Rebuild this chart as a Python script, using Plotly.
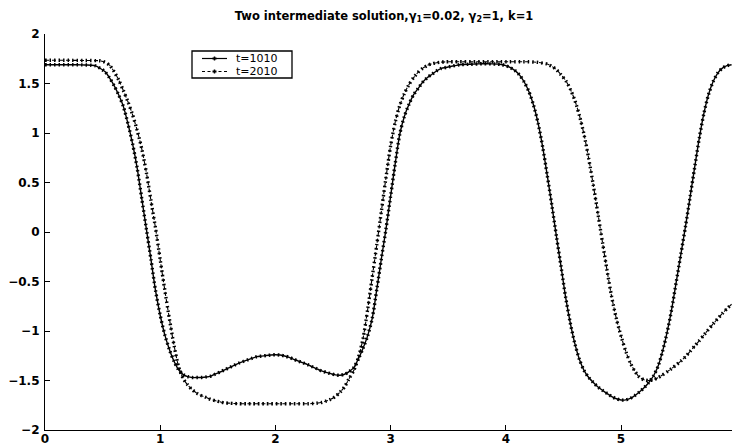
import plotly.graph_objects as go

# Solution profiles u(x) sampled every 0.04 on the visible part of the domain
x_step = 0.04

u_1010 = [
    1.690, 1.690, 1.690, 1.690, 1.690, 1.690, 1.689, 1.689, 1.688, 1.687,
    1.685, 1.678, 1.652, 1.620, 1.557, 1.479, 1.383, 1.269, 1.095, 0.892,
    0.646, 0.337, 0.030, -0.279, -0.595, -0.841, -1.039, -1.187, -1.306, -1.392,
    -1.440, -1.461, -1.470, -1.470, -1.469, -1.464, -1.455, -1.434, -1.414, -1.392,
    -1.370, -1.348, -1.326, -1.308, -1.291, -1.274, -1.259, -1.254, -1.248, -1.243,
    -1.240, -1.243, -1.253, -1.266, -1.286, -1.304, -1.322, -1.340, -1.361, -1.382,
    -1.403, -1.418, -1.431, -1.443, -1.447, -1.437, -1.410, -1.370, -1.282, -1.176,
    -1.052, -0.876, -0.580, -0.270, 0.030, 0.360, 0.690, 0.990, 1.170, 1.290,
    1.388, 1.451, 1.515, 1.560, 1.594, 1.628, 1.653, 1.662, 1.672, 1.681,
    1.690, 1.692, 1.694, 1.696, 1.698, 1.700, 1.699, 1.698, 1.696, 1.692,
    1.680, 1.660, 1.630, 1.585, 1.515, 1.420, 1.285, 1.100, 0.860, 0.570,
    0.268, -0.048, -0.353, -0.663, -0.920, -1.130, -1.290, -1.400, -1.470, -1.520,
    -1.565, -1.600, -1.632, -1.662, -1.684, -1.697, -1.696, -1.680, -1.652, -1.616,
    -1.574, -1.523, -1.457, -1.362, -1.209, -1.014, -0.780, -0.501, -0.223, 0.057,
    0.355, 0.657, 0.950, 1.200, 1.390, 1.520, 1.605, 1.655, 1.680, 1.690,
]

u_2010 = [
    1.735, 1.735, 1.735, 1.735, 1.735, 1.735, 1.734, 1.734, 1.733, 1.733,
    1.732, 1.731, 1.729, 1.714, 1.685, 1.620, 1.535, 1.430, 1.315, 1.185,
    1.027, 0.840, 0.600, 0.316, 0.035, -0.280, -0.587, -0.878, -1.144, -1.360,
    -1.480, -1.547, -1.595, -1.630, -1.654, -1.672, -1.692, -1.704, -1.716, -1.726,
    -1.729, -1.732, -1.734, -1.735, -1.735, -1.735, -1.735, -1.735, -1.735, -1.735,
    -1.735, -1.735, -1.735, -1.735, -1.735, -1.735, -1.735, -1.735, -1.733, -1.729,
    -1.722, -1.708, -1.690, -1.662, -1.620, -1.565, -1.480, -1.400, -1.270, -1.080,
    -0.790, -0.460, -0.130, 0.210, 0.550, 0.870, 1.110, 1.280, 1.400, 1.490,
    1.560, 1.615, 1.655, 1.683, 1.700, 1.710, 1.716, 1.719, 1.720, 1.720,
    1.720, 1.720, 1.720, 1.720, 1.720, 1.720, 1.720, 1.720, 1.720, 1.720,
    1.720, 1.720, 1.720, 1.720, 1.720, 1.719, 1.717, 1.713, 1.706, 1.697,
    1.673, 1.639, 1.587, 1.530, 1.443, 1.328, 1.172, 0.980, 0.740, 0.470,
    0.183, -0.110, -0.396, -0.660, -0.876, -1.050, -1.200, -1.320, -1.405, -1.467,
    -1.493, -1.500, -1.492, -1.472, -1.444, -1.412, -1.378, -1.342, -1.303, -1.260,
    -1.205, -1.152, -1.097, -1.040, -0.983, -0.928, -0.875, -0.823, -0.775, -0.730,
]

x = [round(i * x_step, 2) for i in range(len(u_1010))]

series_names = ["t=1010", "t=2010"]
x_ticks = [0, 1, 2, 3, 4, 5]
y_ticks = [-2, -1.5, -1, -0.5, 0, 0.5, 1, 1.5, 2]

W, H = 732, 446
ML, MR, MT, MB = 45, 0, 34, 16
PW, PH = W - ML - MR, H - MT - MB


def fx(px):
    """Horizontal pixel position -> paper fraction of the plot area."""
    return (px - ML) / PW


def fy(py):
    """Vertical pixel position -> paper fraction of the plot area."""
    return (H - MB - py) / PH


def tick_label(v):
    s = f"{v:g}".replace("-", "\u2212")
    return f"<b>{s}</b>"


fig = go.Figure()
for u, dash, base_w in ((u_1010, "solid", 1.4), (u_2010, "4px,3px", 1.1)):
    # thin base line (solid / dashed)
    fig.add_trace(go.Scatter(
        x=x, y=u, mode="lines", showlegend=False, hoverinfo="skip",
        line=dict(color="black", width=base_w, dash=dash, shape="spline", smoothing=0.8),
    ))
    # dense beaded point markers along the curve
    fig.add_trace(go.Scatter(
        x=x, y=u, mode="lines", showlegend=False, hoverinfo="skip",
        line=dict(color="black", width=3.4, dash="1.6px,2.9px", shape="spline", smoothing=0.8),
    ))

# legend box with line keys
legend_box = (192, 292, 51, 78)
key_x0, key_x1 = 202, 227
key_rows = [(58.5, "solid"), (71.5, "3px,2.5px")]

shapes = [dict(
    type="rect", xref="paper", yref="paper",
    x0=fx(legend_box[0]), x1=fx(legend_box[1]),
    y0=fy(legend_box[3]), y1=fy(legend_box[2]),
    line=dict(color="black", width=1.3), fillcolor="white", layer="above",
)]
annotations = []
for (row_y, dash), name in zip(key_rows, series_names):
    shapes.append(dict(
        type="line", xref="paper", yref="paper",
        x0=fx(key_x0), x1=fx(key_x1), y0=fy(row_y), y1=fy(row_y),
        line=dict(color="black", width=1.2, dash=dash), layer="above",
    ))
    xc = (key_x0 + key_x1) / 2
    shapes.append(dict(
        type="line", xref="paper", yref="paper",
        x0=fx(xc), x1=fx(xc), y0=fy(row_y - 2), y1=fy(row_y + 2),
        line=dict(color="black", width=1.5), layer="above",
    ))
    shapes.append(dict(
        type="line", xref="paper", yref="paper",
        x0=fx(xc - 2), x1=fx(xc + 2), y0=fy(row_y), y1=fy(row_y),
        line=dict(color="black", width=2), layer="above",
    ))
    annotations.append(dict(
        text=name, xref="paper", yref="paper",
        x=fx(235), y=fy(row_y), xanchor="left", yanchor="middle",
        showarrow=False, borderpad=0,
        font=dict(family="DejaVu Sans", size=11, color="black"),
    ))

tick_font = dict(family="DejaVu Sans", size=12, color="black")

fig.update_layout(
    width=W, height=H,
    margin=dict(l=ML, r=MR, t=MT, b=MB, autoexpand=False),
    paper_bgcolor="white", plot_bgcolor="white",
    title=dict(
        text="<b>Two intermediate solution,\u03b3<sub>1</sub>=0.02, \u03b3<sub>2</sub>=1, k=1</b>",
        font=dict(family="DejaVu Sans", size=11.5, color="black"),
        x=384 / W, xanchor="center", y=1 - 16 / H, yanchor="middle",
    ),
    showlegend=False,
    shapes=shapes,
    annotations=annotations,
    xaxis=dict(
        range=[0, PW / 115.2], tickvals=x_ticks,
        ticktext=[tick_label(v) for v in x_ticks],
        ticks="inside", ticklen=5, tickcolor="black", tickwidth=1,
        showline=True, linecolor="black", linewidth=1.2,
        showgrid=False, zeroline=False, tickfont=tick_font,
        ticklabelstandoff=-3, automargin=False,
    ),
    yaxis=dict(
        range=[-2, 2], tickvals=y_ticks,
        ticktext=[tick_label(v) for v in y_ticks],
        ticks="inside", ticklen=5, tickcolor="black", tickwidth=1,
        showline=True, linecolor="black", linewidth=1.2,
        showgrid=False, zeroline=False, tickfont=tick_font,
        ticklabelstandoff=2, automargin=False,
    ),
)

fig.write_html("out.html")
